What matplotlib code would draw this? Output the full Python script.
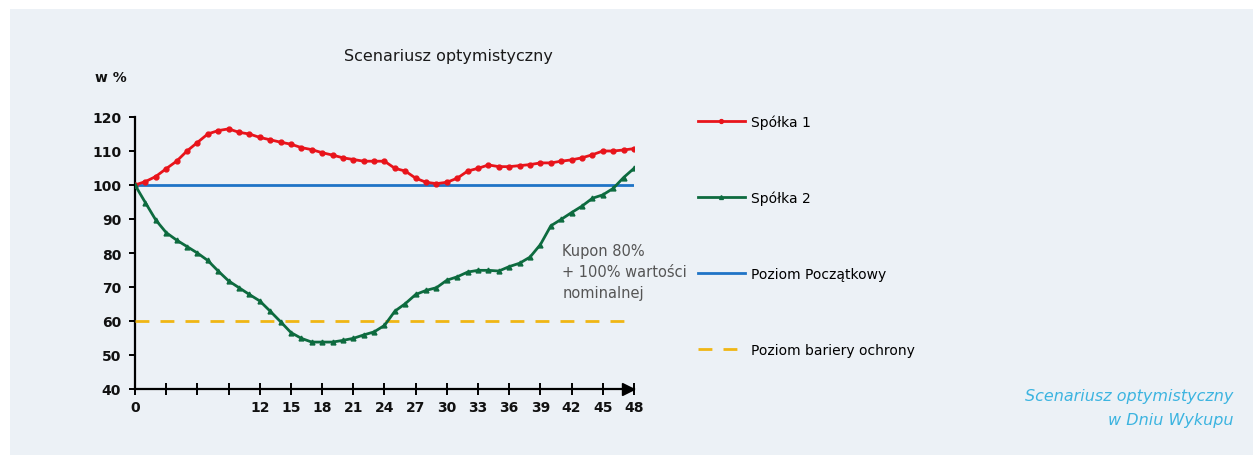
import matplotlib
matplotlib.use("Agg")
import matplotlib.pyplot as plt
from matplotlib.patches import Rectangle

# months 0..48
months = list(range(49))

spolka_1 = [100, 101, 102.5, 104.8, 107, 110, 112.5, 115, 116, 116.5,
            115.5, 115, 114, 113.3, 112.6, 112, 111, 110.4, 109.5, 108.8,
            108, 107.5, 107, 107, 107, 104.9, 104.1, 102, 100.8, 100.4,
            100.8, 102, 104.1, 104.9, 105.9, 105.4, 105.4, 105.7, 106, 106.5,
            106.5, 107, 107.4, 108, 108.9, 110, 110, 110.3, 110.7]

spolka_2 = [100, 94.8, 89.7, 86, 83.8, 81.9, 80, 77.8, 74.7, 71.8,
            69.8, 67.8, 65.9, 62.9, 59.8, 56.6, 54.9, 53.8, 53.8, 53.8,
            54.3, 54.9, 55.9, 56.8, 58.7, 62.9, 65.1, 67.8, 69, 69.8,
            72, 73, 74.4, 74.9, 74.9, 74.7, 76, 77, 78.8, 82.5,
            88, 89.9, 91.9, 93.8, 96.1, 97.1, 99, 102.2, 104.9]

poziom_poczatkowy = 100
poziom_bariery = 60

x_ticks = list(range(0, 49, 3))
x_labels = ["0", "", "", "", "12", "15", "18", "21", "24", "27", "30",
            "33", "36", "39", "42", "45", "48"]
y_ticks = list(range(40, 121, 10))

bg = "#ecf1f6"
W, H = 1253, 456

fig = plt.figure(figsize=(W / 100, H / 100), dpi=100)
fig.patch.set_facecolor("white")
fig.patches.append(Rectangle((10 / W, 0), 1, 1 - 10 / H, transform=fig.transFigure,
                             facecolor=bg, edgecolor="none", zorder=-10))

ax = fig.add_axes([135 / W, 1 - 390 / H, 499 / W, 272 / H])
ax.set_facecolor("none")

l1, = ax.plot(months, spolka_1, color="#e8141b", lw=2, marker="o", ms=3.5,
              label="Spółka 1", zorder=4)
l2, = ax.plot(months, spolka_2, color="#0d6b3f", lw=2, marker="^", ms=3.5,
              label="Spółka 2", zorder=4)
l3, = ax.plot([0, 48], [poziom_poczatkowy] * 2, color="#1f74c6", lw=2,
              label="Poziom Początkowy", zorder=3)
l4, = ax.plot([0, 48], [poziom_bariery] * 2, color="#f0b614", lw=2,
              dashes=(5, 4), label="Poziom bariery ochrony", zorder=3)

ax.set_xlim(0, 48)
ax.set_ylim(40, 120)
for s in ["top", "right"]:
    ax.spines[s].set_visible(False)
ax.spines["left"].set_linewidth(1.6)
ax.spines["bottom"].set_linewidth(1.6)

ax.set_xticks(x_ticks)
ax.set_xticklabels(x_labels)
ax.set_yticks(y_ticks)
ax.tick_params(axis="x", direction="inout", length=8, width=1.4, pad=4,
               labelsize=10, labelcolor="#111111")
ax.tick_params(axis="y", direction="out", length=4, width=1.4, pad=6,
               labelsize=10, labelcolor="#111111")
for t in ax.get_xticklabels() + ax.get_yticklabels():
    t.set_fontweight("semibold")

# arrow head on the x axis
ax.plot([47.45], [40], marker=">", ms=8, color="black", clip_on=False, zorder=5)

ax.text(41.1, 74.7, "Kupon 80%\n+ 100% wartości\nnominalnej", fontsize=10.5,
        color="#555555", va="center", ha="left", linespacing=1.5)

fig.text(448 / W, 1 - 57 / H, "Scenariusz optymistyczny", ha="center",
         va="center", fontsize=11.5, color="#1a1a1a")
fig.text(95 / W, 1 - 78 / H, "w %", ha="left", va="center", fontsize=10,
         fontweight="semibold", color="#111111")

fig.legend(handles=[l1, l2, l3, l4], loc="upper left",
           bbox_to_anchor=(685 / W, 1 - 103 / H), frameon=False,
           fontsize=10, labelspacing=4.45, handlelength=3.4,
           handletextpad=0.45, markerscale=0.8)

fig.text(1233 / W, 1 - 397 / H, "Scenariusz optymistyczny", ha="right",
         va="center", fontsize=11.5, style="italic", color="#3cb4e0")
fig.text(1233 / W, 1 - 421 / H, "w Dniu Wykupu", ha="right",
         va="center", fontsize=11.5, style="italic", color="#3cb4e0")

fig.savefig("out.png", dpi=100, facecolor=fig.get_facecolor())
